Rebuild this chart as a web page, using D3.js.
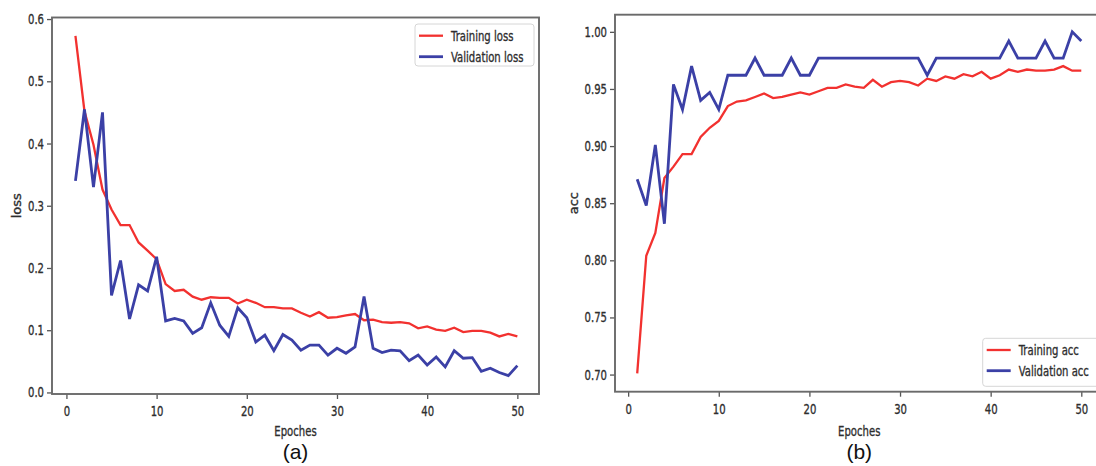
<!DOCTYPE html>
<html>
<head>
<meta charset="utf-8">
<script src="https://cdn.jsdelivr.net/npm/d3@7"></script>
<style>
  body { margin: 0; background: #fff; }
  svg { display: block; }
</style>
</head>
<body>
<div id="chart"></div>
<script>
// data
var epochs = [1,2,3,4,5,6,7,8,9,10,11,12,13,14,15,16,17,18,19,20,21,22,23,24,25,
              26,27,28,29,30,31,32,33,34,35,36,37,38,39,40,41,42,43,44,45,46,47,48,49,50];
var xTicks = [0, 10, 20, 30, 40, 50];

var trainLoss = [0.573,0.452,0.398,0.326,0.294,0.269,0.269,0.241,0.228,0.214,
                 0.174,0.163,0.165,0.154,0.149,0.153,0.152,0.152,0.143,0.149,
                 0.144,0.137,0.137,0.135,0.135,0.128,0.122,0.129,0.120,0.121,
                 0.124,0.126,0.116,0.117,0.113,0.112,0.113,0.111,0.103,0.106,
                 0.101,0.099,0.104,0.097,0.099,0.099,0.096,0.090,0.094,0.090];
var valLoss = [0.340,0.455,0.330,0.450,0.156,0.212,0.118,0.173,0.163,0.218,
               0.115,0.119,0.115,0.095,0.104,0.144,0.108,0.090,0.136,0.120,
               0.081,0.092,0.067,0.093,0.084,0.068,0.076,0.076,0.060,0.071,
               0.063,0.073,0.154,0.071,0.064,0.068,0.067,0.051,0.060,0.044,
               0.057,0.041,0.067,0.055,0.056,0.034,0.039,0.032,0.027,0.043];
var lossTicks = [0.0, 0.1, 0.2, 0.3, 0.4, 0.5, 0.6];

var trainAcc = [0.701,0.804,0.824,0.872,0.882,0.893,0.893,0.908,0.916,0.922,
                0.935,0.939,0.940,0.943,0.946,0.942,0.943,0.945,0.947,0.945,
                0.948,0.951,0.951,0.954,0.952,0.951,0.958,0.952,0.956,0.957,
                0.956,0.953,0.959,0.957,0.961,0.959,0.963,0.961,0.965,0.959,
                0.962,0.967,0.965,0.967,0.966,0.966,0.967,0.970,0.966,0.966];
var valAcc = [0.871,0.848,0.901,0.832,0.954,0.932,0.970,0.940,0.947,0.932,
              0.962,0.962,0.962,0.977,0.962,0.962,0.962,0.977,0.962,0.962,
              0.977,0.977,0.977,0.977,0.977,0.977,0.977,0.977,0.977,0.977,
              0.977,0.977,0.962,0.977,0.977,0.977,0.977,0.977,0.977,0.977,
              0.977,0.992,0.977,0.977,0.977,0.992,0.977,0.977,1.000,0.992];
var accTicks = [0.70, 0.75, 0.80, 0.85, 0.90, 0.95, 1.00];

var RED = "#f2312f", BLUE = "#3b40a6", SQ = 0.72, INK = "#2e2e2e";

var svg = d3.select("#chart").append("svg")
    .attr("width", 1096)
    .attr("height", 466);

// small text looks heavy and squeezed sideways in the source image
function inked(sel, size) {
    return sel.style("font-family", "DejaVu Sans")
        .style("font-size", size + "px")
        .style("fill", INK)
        .style("stroke", INK)
        .style("stroke-width", 0.35);
}

function squeezedText(g, x, y, str, size, anchor) {
    return inked(g.append("text")
        .attr("transform", "translate(" + x + "," + y + ") scale(" + SQ + ",1)")
        .attr("text-anchor", anchor || "middle")
        .text(str), size);
}

function drawPanel(p) {
    var g = svg.append("g");

    var x = d3.scaleLinear().domain(p.xDomain).range([p.left, p.right]);
    var y = d3.scaleLinear().domain(p.yDomain).range([p.bottom, p.top]);

    // X axis
    var xa = g.append("g")
        .attr("transform", "translate(0," + p.bottom + ")")
        .call(d3.axisBottom(x).tickValues(xTicks).tickSize(5).tickPadding(7));
    // Y axis
    var ya = g.append("g")
        .attr("transform", "translate(" + p.left + ",0)")
        .call(d3.axisLeft(y).tickValues(p.yTicks).tickFormat(d3.format(p.fmt)).tickSize(5));

    [xa, ya].forEach(function(a) {
        a.select(".domain").remove();
        a.selectAll("line").attr("stroke", "#555").attr("stroke-width", 1.3);
        inked(a.selectAll("text"), 14)
            .attr("transform", "scale(" + SQ + ",1)");
    });
    ya.selectAll("text").attr("x", -8 / SQ);

    // frame
    g.append("rect")
        .attr("x", p.left).attr("y", p.top)
        .attr("width", p.right - p.left).attr("height", p.bottom - p.top)
        .attr("fill", "none")
        .attr("stroke", "#6a6a6a")
        .attr("stroke-width", 1.9);

    //Lines
    var line = function(vals) {
        return d3.line()
            .x(function(d, i) { return x(epochs[i]); })
            .y(function(d) { return y(d); })(vals);
    };
    g.append("path").attr("d", line(p.train))
        .attr("fill", "none").attr("stroke", RED).attr("stroke-width", 2.3);
    g.append("path").attr("d", line(p.val))
        .attr("fill", "none").attr("stroke", BLUE).attr("stroke-width", 2.8);

    // legend
    var L = p.legend;
    g.append("rect")
        .attr("x", L.x).attr("y", L.y)
        .attr("width", L.w).attr("height", L.h)
        .attr("rx", 3)
        .attr("fill", "#fff").attr("fill-opacity", 0.85)
        .attr("stroke", "#d6d6d6").attr("stroke-width", 1);
    [[p.names[0], RED, 2.3], [p.names[1], BLUE, 2.8]].forEach(function(it, k) {
        var ry = L.row0 + k * L.gap;
        g.append("line")
            .attr("x1", L.x + 4).attr("x2", L.x + 28)
            .attr("y1", ry).attr("y2", ry)
            .attr("stroke", it[1]).attr("stroke-width", it[2]);
        squeezedText(g, L.x + 36, ry + 5, it[0], 14, "start");
    });

    // axis labels
    squeezedText(g, (p.left + p.right) / 2, 436, "Epoches", 14);
    inked(g.append("text")
        .attr("transform", "translate(" + p.yLabelX + "," + (p.top + p.bottom) / 2 + ") rotate(-90)")
        .attr("text-anchor", "middle")
        .text(p.yLabel), 13);

    g.append("text")
        .attr("x", (p.left + p.right) / 2)
        .attr("y", 459)
        .attr("text-anchor", "middle")
        .style("font-family", "Liberation Sans")
        .style("font-size", "21px")
        .style("fill", "#111")
        .text(p.tag);
}

drawPanel({
    left: 52, right: 539, top: 17.5, bottom: 394,
    xDomain: [-1.6, 52.4], yDomain: [-0.0025, 0.6025],
    yTicks: lossTicks, fmt: ".1f",
    train: trainLoss, val: valLoss,
    names: ["Training loss", "Validation loss"],
    legend: {x: 415, y: 24, w: 119, h: 42, row0: 35.7, gap: 21},
    yLabel: "loss", yLabelX: 21, tag: "(a)"
});

drawPanel({
    left: 615, right: 1103.5, top: 14.7, bottom: 391.7,
    xDomain: [-1.45, 52.45], yDomain: [0.685, 1.015],
    yTicks: accTicks, fmt: ".2f",
    train: trainAcc, val: valAcc,
    names: ["Training acc", "Validation acc"],
    legend: {x: 982.7, y: 338.3, w: 118, h: 48, row0: 350, gap: 20.7},
    yLabel: "acc", yLabelX: 578, tag: "(b)"
});
</script>
</body>
</html>
